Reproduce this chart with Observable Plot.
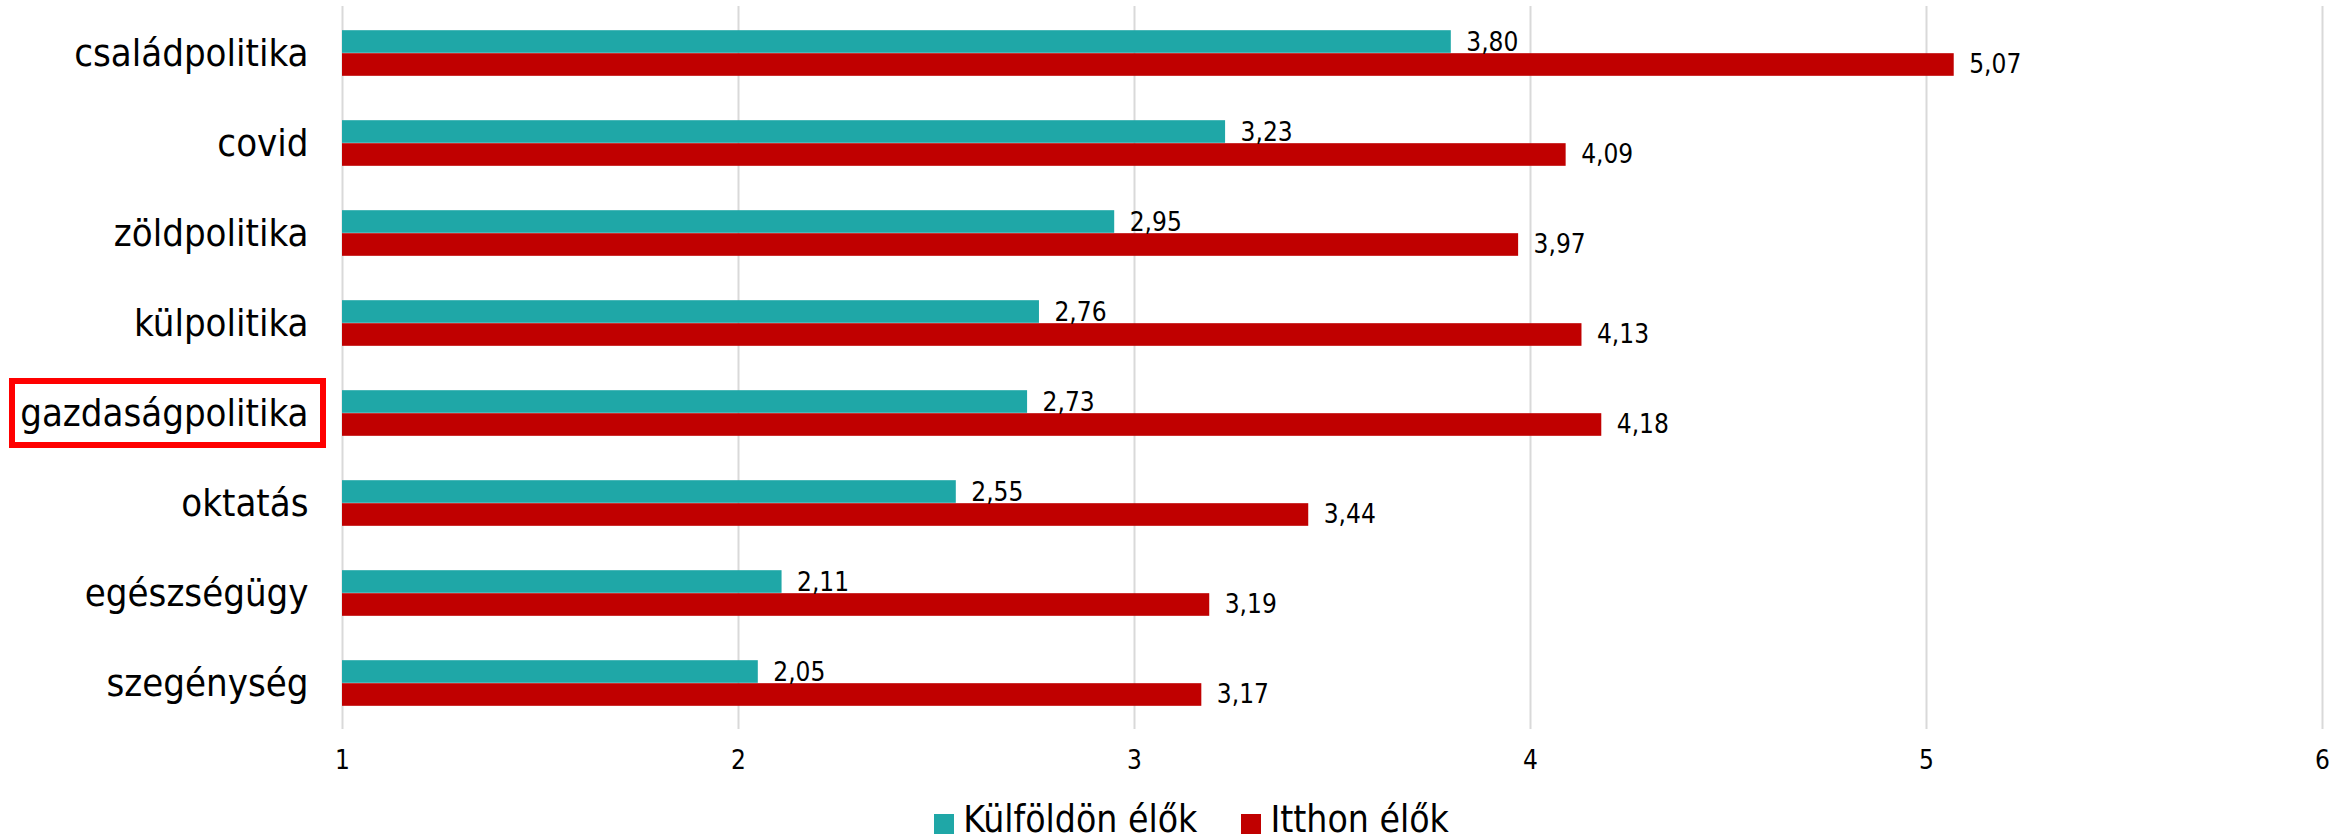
<!DOCTYPE html>
<html>
<head>
<meta charset="utf-8">
<script src="https://cdn.jsdelivr.net/npm/d3@7"></script>
<script src="https://cdn.jsdelivr.net/npm/@observablehq/plot@0.6"></script>
<style>
  html, body { margin: 0; padding: 0; background: #fff; }
  body { width: 2351px; height: 838px; overflow: hidden;
         font-family: "DejaVu Sans Condensed", "DejaVu Sans", sans-serif; font-stretch: condensed; }
  #legend { display: flex; justify-content: center; align-items: flex-end; gap: 44px;
            padding-left: 32px; margin-top: 5px; height: 40px; font-size: 37px; line-height: 40px; color: #000; }
  .item { display: flex; align-items: center; gap: 9px; }
  .sw { width: 20px; height: 20px; display: inline-block; margin-top: 7px; }
</style>
</head>
<body>
<div id="chart"></div>
<div id="legend"></div>
<script>
// ---- data ----
const categories = ["családpolitika", "covid", "zöldpolitika", "külpolitika", "gazdaságpolitika", "oktatás", "egészségügy", "szegénység"];
const seriesNames = ["Külföldön élők", "Itthon élők"];
const abroadValues = [3.80, 3.23, 2.95, 2.76, 2.73, 2.55, 2.11, 2.05];
const homeValues   = [5.07, 4.09, 3.97, 4.13, 4.18, 3.44, 3.19, 3.17];
const xTicks = [1, 2, 3, 4, 5, 6];
const highlighted = "gazdaságpolitika";
const seriesColors = ["#1fa7a7", "#c00000"];

// ---- layout ----
const W = 2351, H = 795;
const mTop = 6, mBottom = 66, mLeft = 342, mRight = 29;
const step = (H - mTop - mBottom) / categories.length;
const barH = 23;
const outer = step / 2 - barH;

const abroad = categories.map((c, i) => ({category: c, series: seriesNames[0], value: abroadValues[i]}));
const home = categories.map((c, i) => ({category: c, series: seriesNames[1], value: homeValues[i]}));
const fmt = v => v.toFixed(2).replace(".", ",");
const font = '"DejaVu Sans Condensed", "DejaVu Sans", sans-serif';

const plot = Plot.plot({
  width: W, height: H,
  marginTop: mTop, marginBottom: mBottom, marginLeft: mLeft, marginRight: mRight,
  style: {fontFamily: font, color: "#000", background: "#fff", overflow: "visible"},
  x: {domain: [1, 6], label: null},
  y: {domain: categories, padding: 0, label: null},
  color: {domain: seriesNames, range: seriesColors},
  marks: [
    Plot.gridX(xTicks, {stroke: "#d9d9d9", strokeOpacity: 1, strokeWidth: 2}),
    Plot.barX(abroad, {x1: 1, x2: "value", y: "category", fill: "series", insetTop: outer, insetBottom: step / 2}),
    Plot.barX(home, {x1: 1, x2: "value", y: "category", fill: "series", insetTop: step / 2, insetBottom: outer}),
    Plot.text(abroad, {x: "value", y: "category", text: d => fmt(d.value), dx: 15, dy: -barH / 2 + 1, textAnchor: "start", fontSize: 26, fill: "#000"}),
    Plot.text(home, {x: "value", y: "category", text: d => fmt(d.value), dx: 15, dy: barH / 2, textAnchor: "start", fontSize: 26, fill: "#000"}),
    Plot.axisX({ticks: xTicks, tickSize: 0, tickPadding: 21, fontSize: 26, tickFormat: d => String(d), label: null}),
    Plot.axisY({tickSize: 0, tickPadding: 34, fontSize: 38, label: null})
  ]
});

// highlight box around the emphasised category label, positioned with the y scale
const ys = plot.scale("y");
const cy = ys.apply(highlighted) + ys.bandwidth / 2;
d3.select(plot).append("rect")
  .attr("x", 12).attr("y", cy - 32).attr("width", 311).attr("height", 64)
  .attr("fill", "none").attr("stroke", "#ff0000").attr("stroke-width", 6);

document.getElementById("chart").appendChild(plot);

const legend = document.getElementById("legend");
seriesNames.forEach((s, i) => {
  const item = document.createElement("div");
  item.className = "item";
  const sw = document.createElement("span");
  sw.className = "sw";
  sw.style.background = seriesColors[i];
  const t = document.createElement("span");
  t.textContent = s;
  item.appendChild(sw); item.appendChild(t);
  legend.appendChild(item);
});
</script>
</body>
</html>
